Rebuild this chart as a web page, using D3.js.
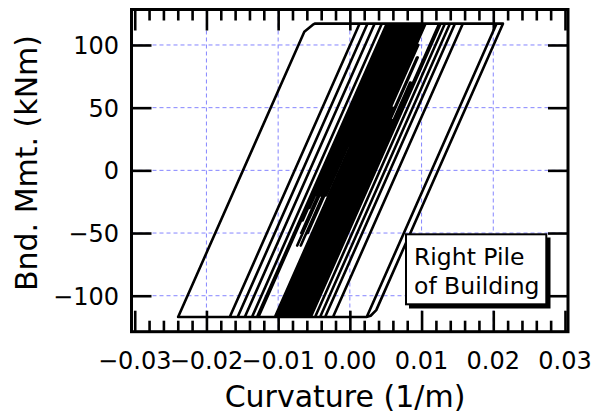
<!DOCTYPE html>
<html>
<head>
<meta charset="utf-8">
<script src="https://cdn.jsdelivr.net/npm/d3@7"></script>
<style>
  html, body { margin: 0; padding: 0; background: #fff; }
  svg { display: block; }
</style>
</head>
<body>
<svg id="chart" width="592" height="415"></svg>
<script>
// ---- data (curvature 1/m, bending moment kNm) ----
const curvature = [
  0, 0.00464, -0.00387, 0.00905, 0.00975, -0.00835, -0.00965, 0.00845, 0.01015, -0.00795,
  -0.01005, 0.00805, 0.00935, -0.00875, -0.00915, 0.00895, 0.01055, -0.00755, -0.01045, 0.00765,
  0.02045, 0.00235, -0.01565, 0.00245, 0.02135, 0.00368, 0.0029, 0.0023, -0.02395, -0.00635,
  -0.0052, -0.0049, 0.01575, -0.00235, -0.01675, 0.00135, 0.01465, -0.00345, -0.01465, 0.00345,
  0.01395, -0.00415, -0.01365, 0.00445, 0.01325, -0.00485, -0.01295, 0.00515,
  0.00555, -0.00659, 0.00555, 0.00595, -0.00465, 0.00595, 0.00635, -0.00734, 0.00635, 0.00665,
  -0.00317, 0.00665, 0.00705, -0.00587, 0.00705, 0.00745, -0.00005, 0.00745, 0.00785, -0.01025,
  -0.01045, 0.00765, 0.00985, -0.00825, -0.00945, 0.00865, 0.01035, -0.00775, -0.00895, 0.00915,
  0.01265, -0.00545, -0.00575, 0.00639, -0.00575, -0.00605, 0.00841, -0.00605, -0.00635, 0.00425,
  -0.00635, -0.00665, 0.00936, -0.00665, -0.00695, 0.00597, -0.00695, -0.00725, 0.00954, -0.00725,
  -0.01275, 0.00535, 0.00575, -0.00565, 0.00575, 0.00615, -0.00677, 0.00615, 0.00655, -0.00405,
  0.00655, 0.00685, -0.00684, 0.00685, 0.00725, -0.00335, 0.00725, 0.00875, -0.00935, -0.00985,
  0.00825, 0.00995, -0.00815, -0.00845, 0.00965, 0.01245, -0.00565, -0.00595, 0.00851, -0.00595,
  -0.00625, 0.00589, -0.00625, -0.00655, 0.00946, -0.00655, -0.00685, 0.00454, -0.00685, -0.00785,
  0.0012
];
const moment = [
  0, 60, -50, 117, 117, -117, -117, 117, 117, -117,
  -117, 117, 117, -117, -117, 117, 117, -117, -117, 117,
  117, -117, -117, 117, 117, -111.5, -116, -117, -117, 110.6,
  116, 117, 117, -117, -117, 117, 117, -117, -117, 117,
  117, -117, -117, 117, 117, -117, -117, 117,
  117, -40, 117, 117, -20, 117, 117, -60, 117, 117,
  -10, 117, 117, -50, 117, 117, 20, 117, 117, -117,
  -117, 117, 117, -117, -117, 117, 117, -117, -117, 117,
  117, -117, -117, 40, -117, -117, 70, -117, -117, 20,
  -117, -117, 90, -117, -117, 50, -117, -117, 100, -117,
  -117, 117, 117, -30, 117, 117, -50, 117, 117, -20,
  117, 117, -60, 117, 117, -20, 117, 117, -117, -117,
  117, 117, -117, -117, 117, 117, -117, -117, 70, -117,
  -117, 40, -117, -117, 90, -117, -117, 30, -117, -117,
  0
];
const xTicks = [-0.03, -0.02, -0.01, 0, 0.01, 0.02, 0.03];
const xTickLabels = ["\u22120.03", "\u22120.02", "\u22120.01", "0.00", "0.01", "0.02", "0.03"];
const yTicks = [-100, -50, 0, 50, 100];
const yTickLabels = ["\u2212100", "\u221250", "0", "50", "100"];
const xGrid = [-0.02, -0.01, 0, 0.01, 0.02];
const yGrid = [-100, -50, 0, 50, 100];
const legendLines = ["Right Pile", "of Building"];
const xTitle = "Curvature (1/m)";
const yTitle = "Bnd. Mmt. (kNm)";

// ---- layout ----
const L = 131.5, R = 568, T = 9.5, B = 331.7;
const FONT = "'DejaVu Sans', 'Liberation Sans', sans-serif";

const svg = d3.select("#chart");
svg.append("rect").attr("width", 592).attr("height", 415).attr("fill", "#fff");

const x = d3.scaleLinear().domain([-0.03045, 0.03042]).range([L, R]);
const y = d3.scaleLinear().domain([-128.7, 128.3]).range([B, T]);

svg.append("defs").append("clipPath").attr("id", "clip")
  .append("rect").attr("x", L).attr("y", T).attr("width", R - L).attr("height", B - T);

// grid
const grid = svg.append("g").attr("stroke", "#8585ff").attr("stroke-width", 1)
  .attr("stroke-dasharray", "4,3");
grid.selectAll("line.v").data(xGrid).join("line").attr("class", "v")
  .attr("x1", d => x(d)).attr("x2", d => x(d)).attr("y1", T).attr("y2", B);
grid.selectAll("line.h").data(yGrid).join("line").attr("class", "h")
  .attr("y1", d => y(d)).attr("y2", d => y(d)).attr("x1", L).attr("x2", R);

// data
const pts = curvature.map((c, i) => [c, moment[i]]);
const line = d3.line().x(d => x(d[0])).y(d => y(d[1]));
svg.append("path").attr("clip-path", "url(#clip)")
  .attr("d", line(pts)).attr("fill", "none").attr("stroke", "#000")
  .attr("stroke-width", 2.6).attr("stroke-linejoin", "round");

// axes with inward ticks
const minor = d3.range(-15, 16).map(i => +(i * 0.002).toFixed(3)).filter(v => Math.abs(Math.round(v * 100) - v * 100) > 1e-6);
function styleAxis(g) {
  g.select(".domain").remove();
  g.selectAll("line").attr("stroke", "#000").attr("stroke-width", 2.6);
  g.selectAll("text").remove();
}
svg.append("g").attr("transform", `translate(0,${B})`)
  .call(d3.axisBottom(x).tickValues(xTicks).tickSize(-21).tickFormat("")).call(styleAxis);
svg.append("g").attr("transform", `translate(0,${B})`)
  .call(d3.axisBottom(x).tickValues(minor).tickSize(-11).tickFormat("")).call(styleAxis);
svg.append("g").attr("transform", `translate(0,${T})`)
  .call(d3.axisTop(x).tickValues(xTicks).tickSize(-21).tickFormat("")).call(styleAxis);
svg.append("g").attr("transform", `translate(0,${T})`)
  .call(d3.axisTop(x).tickValues(minor).tickSize(-11).tickFormat("")).call(styleAxis);
svg.append("g").attr("transform", `translate(${L},0)`)
  .call(d3.axisLeft(y).tickValues(yTicks).tickSize(-20).tickFormat("")).call(styleAxis);
svg.append("g").attr("transform", `translate(${R},0)`)
  .call(d3.axisRight(y).tickValues(yTicks).tickSize(-20).tickFormat("")).call(styleAxis);

// frame
svg.append("rect").attr("x", L).attr("y", T).attr("width", R - L).attr("height", B - T)
  .attr("fill", "none").attr("stroke", "#000").attr("stroke-width", 3);

// tick labels
svg.append("g").selectAll("text").data(xTicks).join("text")
  .attr("x", d => x(d)).attr("y", 369)
  .attr("text-anchor", "middle").attr("font-family", FONT).attr("font-size", 24)
  .text((d, i) => xTickLabels[i]);
svg.append("g").selectAll("text").data(yTicks).join("text")
  .attr("x", 119).attr("y", d => y(d) + 9)
  .attr("text-anchor", "end").attr("font-family", FONT).attr("font-size", 24)
  .text((d, i) => yTickLabels[i]);

// axis titles
svg.append("text").attr("x", 345).attr("y", 407).attr("text-anchor", "middle")
  .attr("font-family", FONT).attr("font-size", 30).text(xTitle);
svg.append("text").attr("transform", "translate(37,163) rotate(-90)").attr("text-anchor", "middle")
  .attr("font-family", FONT).attr("font-size", 30).text(yTitle);

// legend box with shadow
svg.append("rect").attr("x", 409).attr("y", 237.5).attr("width", 141.5).attr("height", 71).attr("fill", "#000");
svg.append("rect").attr("x", 406).attr("y", 234.3).attr("width", 140.3).attr("height", 70)
  .attr("fill", "#fff").attr("stroke", "#000").attr("stroke-width", 2);
svg.append("g").selectAll("text").data(legendLines).join("text")
  .attr("x", 414).attr("y", (d, i) => 265 + i * 29)
  .attr("font-family", FONT).attr("font-size", 23.5).text(d => d);
</script>
</body>
</html>
